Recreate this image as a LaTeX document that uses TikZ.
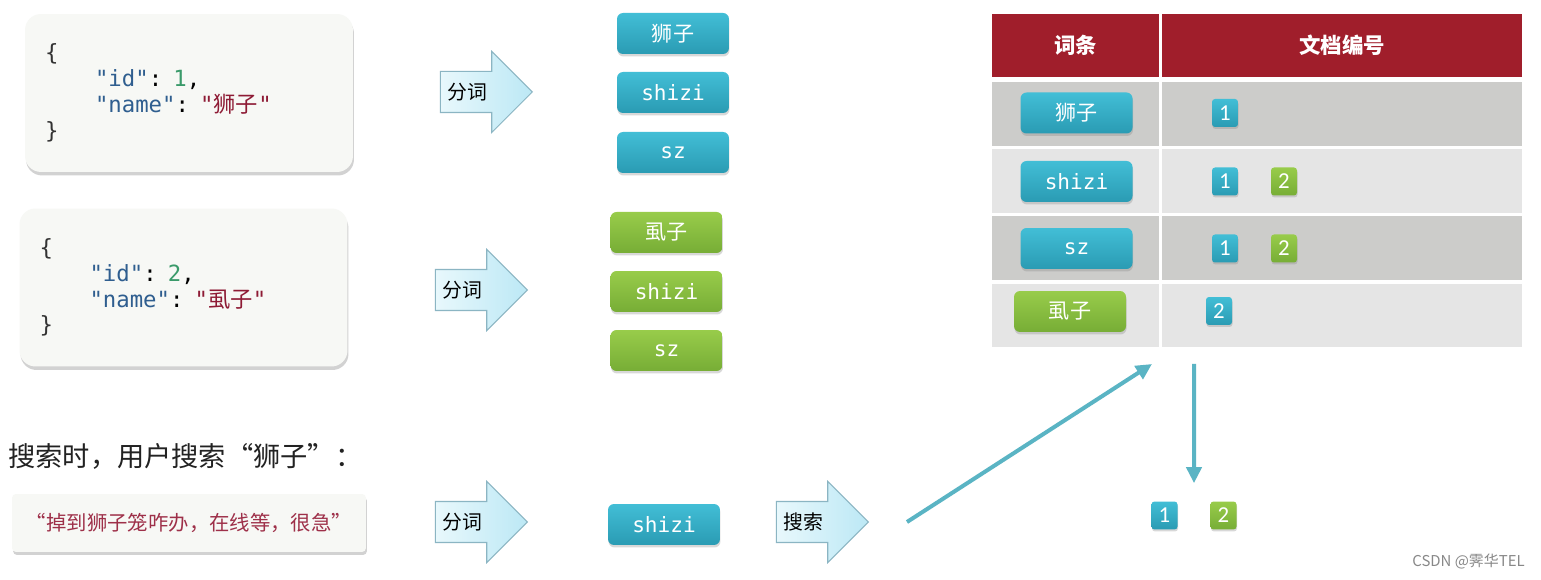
\documentclass[tikz,border=0pt]{standalone}
\usepackage{fontspec}
\setmainfont{Noto Sans CJK SC}
\setmonofont{DejaVu Sans Mono}
\newfontfamily\numfont{Carlito}
\newcommand{\zh}[1]{{\rmfamily #1}}
\definecolor{cardgray}{RGB}{247,248,245}
\definecolor{keyblue}{RGB}{47,94,143}
\definecolor{numgreen}{RGB}{58,154,106}
\definecolor{strred}{RGB}{142,27,53}
\definecolor{bracegray}{RGB}{51,51,51}
\definecolor{tealtop}{RGB}{66,190,214}
\definecolor{tealbot}{RGB}{42,155,179}
\definecolor{greentop}{RGB}{152,204,74}
\definecolor{greenbot}{RGB}{119,173,54}
\definecolor{arrowl}{RGB}{232,248,252}
\definecolor{arrowr}{RGB}{188,232,245}
\definecolor{arrowline}{RGB}{139,181,195}
\definecolor{headred}{RGB}{160,30,43}
\definecolor{rowdark}{RGB}{204,204,202}
\definecolor{rowlight}{RGB}{229,229,229}
\definecolor{linkteal}{RGB}{90,180,196}
\definecolor{titlegray}{RGB}{34,34,34}
\definecolor{queryred}{RGB}{158,48,73}
\definecolor{wmgray}{RGB}{136,136,136}
\usetikzlibrary{arrows.meta,positioning,shapes.arrows,shadows,calc}

\begin{document}
\begin{tikzpicture}[x=0.02cm, y=-0.02cm,
    jsonbox/.style={fill=cardgray, rounded corners=0.32cm, minimum height=3.16cm,
                    text width=5.76cm, inner xsep=0.4cm, align=left,
                    font=\fontsize{12.7}{14.7}\selectfont\ttfamily,
                    drop shadow={opacity=0.35, shadow xshift=0.02cm, shadow yshift=-0.07cm}},
    tag/.style={rounded corners=0.12cm, minimum width=2.24cm, minimum height=0.82cm,
                inner sep=0pt, text=white, font=\fontsize{12}{14}\selectfont\ttfamily,
                drop shadow={opacity=0.3, shadow xshift=0.01cm, shadow yshift=-0.05cm}},
    tealtag/.style={tag, top color=tealtop, bottom color=tealbot},
    greentag/.style={tag, top color=greentop, bottom color=greenbot},
    numtag/.style={rounded corners=0.06cm, minimum width=0.52cm, minimum height=0.56cm,
                   inner sep=0pt, text=white, font=\fontsize{13}{14}\selectfont\numfont,
                   drop shadow={opacity=0.3, shadow xshift=0.01cm, shadow yshift=-0.04cm}},
    tealnum/.style={numtag, top color=tealtop, bottom color=tealbot},
    greennum/.style={numtag, top color=greentop, bottom color=greenbot},
    fenci/.style={single arrow, single arrow head extend=0.4cm, single arrow tip angle=90,
                  minimum height=1.84cm, inner xsep=0pt, inner ysep=0.4cm,
                  draw=arrowline, line width=0.6pt, left color=arrowl, right color=arrowr},
    headcell/.style={fill=headred, text=white, inner sep=0pt, minimum height=1.26cm,
                     font=\fontsize{12.2}{14}\selectfont\bfseries},
    darkcell/.style={fill=rowdark, inner sep=0pt, minimum height=1.28cm},
    lightcell/.style={fill=rowlight, inner sep=0pt, minimum height=1.28cm},
    link/.style={-{Triangle[length=0.32cm,width=0.3cm]}, line width=0.08cm, linkteal}
  ]
  \fill[white] (0,0) rectangle (1541,580);
  \useasboundingbox (0,0) rectangle (1541,580);

  % documents
  \node[jsonbox] (doc1) at (189,93) {%
    \textcolor{bracegray}{\{}\\
    \hspace*{1cm}\textcolor{keyblue}{"id"}: \textcolor{numgreen}{1},\\
    \hspace*{1cm}\textcolor{keyblue}{"name"}: \textcolor{strred}{"\zh{狮子}"}\\
    \textcolor{bracegray}{\}}};
  \node[jsonbox] (doc2) at (183.5,287.5) {%
    \textcolor{bracegray}{\{}\\
    \hspace*{1cm}\textcolor{keyblue}{"id"}: \textcolor{numgreen}{2},\\
    \hspace*{1cm}\textcolor{keyblue}{"name"}: \textcolor{strred}{"\zh{虱子}"}\\
    \textcolor{bracegray}{\}}};

  % tokenizer arrows
  \node[fenci, label={[xshift=-0.18cm, font=\fontsize{11.3}{13}\selectfont]center:分词}] (cut1) at (476,92) {};
  \node[fenci, label={[xshift=-0.18cm, font=\fontsize{11.3}{13}\selectfont]center:分词}] (cut2) at (471,290) {};
  \node[fenci, label={[xshift=-0.18cm, font=\fontsize{11.3}{13}\selectfont]center:分词}] (cut3) at (471,522) {};
  \node[fenci, label={[xshift=-0.18cm, font=\fontsize{11.3}{13}\selectfont]center:搜索}] (sou) at (812,522) {};

  % terms of doc 1 and doc 2
  \node[tealtag] (t11) at (673,33.5) {\zh{狮子}};
  \node[tealtag] (t12) at (673,92.5) {shizi};
  \node[tealtag] (t13) at (673,152.5) {sz};
  \node[greentag] (t21) at (666.5,232.5) {\zh{虱子}};
  \node[greentag] (t22) at (666.5,291.5) {shizi};
  \node[greentag] (t23) at (666.5,350.5) {sz};

  % inverted index
  \node[headcell, minimum width=3.34cm] (hterm) at (1075.5,45.5) {词条};
  \node[headcell, minimum width=7.2cm] (hdoc) at (1342,45.5) {文档编号};
  \foreach \y/\s [count=\i] in {114/darkcell, 181/lightcell, 248/darkcell, 315.5/lightcell} {
    \node[\s, minimum width=3.34cm] (term\i) at (1075.5,\y) {};
    \node[\s, minimum width=7.2cm] (ids\i) at (1342,\y) {};
  }
  \node[tealtag] (k1) at (1076.5,113) {\zh{狮子}};
  \node[tealtag] (k2) at (1076.5,181.5) {shizi};
  \node[tealtag] (k3) at (1076.5,248.5) {sz};
  \node[greentag] (k4) at (1070,311.5) {\zh{虱子}};
  \node[tealnum] (n11) at (1225,113) {1};
  \node[tealnum] (n21) at (1225,181.5) {1};
  \node[greennum] (n22) at (1284,181.5) {2};
  \node[tealnum] (n31) at (1225,248.5) {1};
  \node[greennum] (n32) at (1284,248.5) {2};
  \node[tealnum] (n41) at (1219,311) {2};

  % search
  \node[anchor=west, inner sep=0pt, text=titlegray, font=\fontsize{15.5}{18}\selectfont] (title) at (8,456) {搜索时，用户搜索“狮子”：};
  \node[fill=cardgray, rounded corners=0.08cm, minimum width=7.08cm, minimum height=1.16cm,
        text=queryred, font=\fontsize{11.6}{13}\selectfont,
        drop shadow={opacity=0.35, shadow xshift=0.02cm, shadow yshift=-0.06cm}] (query) at (189,523) {“掉到狮子笼咋办，在线等，很急”};
  \node[tealtag] (qterm) at (664,524.5) {shizi};
  \node[tealnum] (r1) at (1164.5,515.5) {1};
  \node[greennum] (r2) at (1223.5,515.5) {2};

  \coordinate (hit) at (1152,364);
  \coordinate (out) at (1194,364);
  \draw[link] ([xshift=0.76cm]sou.tip) -- (hit);
  \draw[link] (out) -- ([yshift=0.36cm]$(r1.north)!.5!(r2.north)$);

  \node[anchor=east, inner sep=0pt, text=wmgray, font=\fontsize{8.5}{10}\selectfont] (mark) at (1525,562) {CSDN @霁华TEL};
\end{tikzpicture}
\end{document}
